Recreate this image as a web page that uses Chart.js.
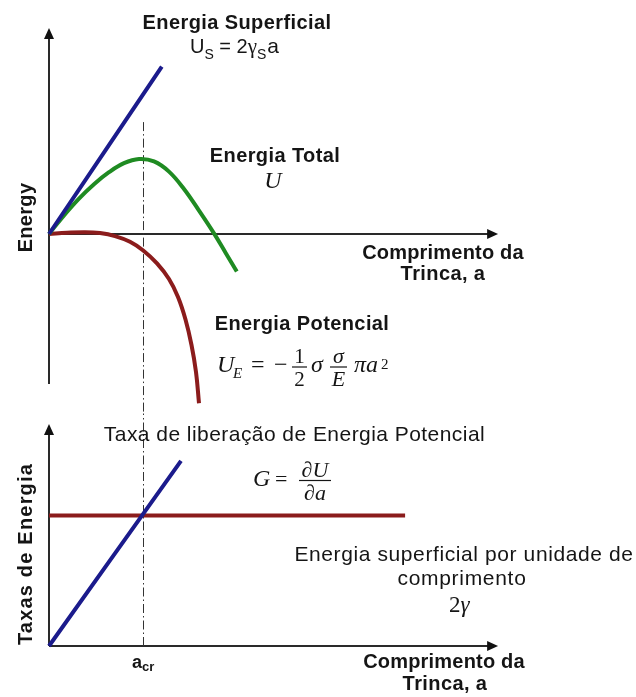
<!DOCTYPE html>
<html>
<head>
<meta charset="utf-8">
<script src="https://cdn.jsdelivr.net/npm/chart.js@4.4.1/dist/chart.umd.min.js"></script>
<style>
  body { margin: 0; background: #fff; }
  #wrap { position: relative; width: 636px; height: 697px; }
  #wrap canvas { position: absolute; left: 0; top: 0; }
</style>
</head>
<body>
<div id="wrap">
  <canvas id="energy" width="636" height="697"></canvas>
  <canvas id="rates" width="636" height="697"></canvas>
</div>
<script>
// top panel: energy vs crack length a
const aSurface = [0, 3.76];
const uSurface = [0, 5.58];
const aTotal = [0, 0.5, 1.0, 1.5, 2.0, 2.5, 3.0, 3.5, 4.0, 4.5, 5.0, 5.5, 5.9, 6.26];
const uTotal = [0, 0.62, 1.18, 1.66, 2.06, 2.36, 2.5, 2.42, 2.08, 1.5, 0.78, 0.02, -0.65, -1.25];
const aPot = [0, 0.6, 1.2, 1.7, 2.2, 2.7, 3.14, 3.6, 4.0, 4.3, 4.55, 4.75, 4.9, 5.0];
const uPot = [0, 0.04, 0.06, 0.03, -0.07, -0.26, -0.55, -0.98, -1.5, -2.1, -2.85, -3.7, -4.6, -5.64];
const aCr = 3.13;

// bottom panel: energy rates
const aG = [0, 4.4];
const gRate = [0, 6.17];
const aR = [0, 11.87];
const rRate = [4.35, 4.35];

const blue = '#1b1b8c';
const green = '#1f8b22';
const red = '#8b1c1c';
const ink = '#151515';

function pts(xs, ys) {
  return xs.map((v, i) => ({x: v, y: ys[i]}));
}

function line(ctx, x1, y1, x2, y2) {
  ctx.beginPath(); ctx.moveTo(x1, y1); ctx.lineTo(x2, y2); ctx.stroke();
}

// axes with arrow heads and the dash-dot line at a_cr
const axesPlugin = {
  id: 'axes',
  beforeDatasetsDraw(chart, args, o) {
    const {ctx, scales: {x, y}} = chart;
    const x0 = x.getPixelForValue(0), y0 = y.getPixelForValue(0);
    const yb = y.getPixelForValue(o.yFrom), yt = y.getPixelForValue(o.yTo);
    const xr = x.getPixelForValue(o.xTo);
    ctx.save();
    ctx.strokeStyle = '#2a2a2a'; ctx.fillStyle = '#111'; ctx.lineWidth = 2;
    line(ctx, x0, yb, x0, yt + 8);
    ctx.beginPath(); ctx.moveTo(x0, yt); ctx.lineTo(x0 - 5, yt + 11); ctx.lineTo(x0 + 5, yt + 11); ctx.closePath(); ctx.fill();
    line(ctx, x0, y0, xr - 8, y0);
    ctx.beginPath(); ctx.moveTo(xr, y0); ctx.lineTo(xr - 11, y0 - 5); ctx.lineTo(xr - 11, y0 + 5); ctx.closePath(); ctx.fill();
    const xc = Math.round(x.getPixelForValue(aCr)) + 0.5;
    ctx.strokeStyle = '#333'; ctx.lineWidth = 1; ctx.setLineDash([9, 3, 1.5, 3]);
    line(ctx, xc, y.getPixelForValue(o.crFrom), xc, y.getPixelForValue(o.crTo));
    ctx.restore();
  }
};

function txt(ctx, s, x, y, font, align, ls) {
  ctx.font = font;
  ctx.textAlign = align || 'left';
  ctx.letterSpacing = (ls || 0) + 'px';
  ctx.fillText(s, x, y);
  const w = ctx.measureText(s).width;
  ctx.letterSpacing = '0px';
  return w;
}

function vtxt(ctx, s, x, y, font, ls) {
  ctx.save();
  ctx.translate(x, y); ctx.rotate(-Math.PI / 2);
  txt(ctx, s, 0, 0, font, 'center', ls);
  ctx.restore();
}

const B = 'bold 20px "Liberation Sans", Arial, sans-serif';
const R = '21px "Liberation Sans", Arial, sans-serif';
const SANS = (px) => px + 'px "Liberation Sans", Arial, sans-serif';
const SI = (px) => 'italic ' + px + 'px "Liberation Serif", "Times New Roman", serif';
const SR = (px) => px + 'px "Liberation Serif", "Times New Roman", serif';

function frac(ctx, top, bot, cx, barY, font, w) {
  txt(ctx, top, cx, barY - 4, font, 'center');
  txt(ctx, bot, cx, barY + 19, font, 'center');
  ctx.save(); ctx.lineWidth = 1.2; ctx.strokeStyle = ink;
  line(ctx, cx - w / 2, barY, cx + w / 2, barY);
  ctx.restore();
}

const topLabels = {
  id: 'topLabels',
  afterDraw(chart) {
    const ctx = chart.ctx;
    ctx.save();
    ctx.fillStyle = ink; ctx.textBaseline = 'alphabetic';
    txt(ctx, 'Energia Superficial', 237, 28.5, B, 'center', 0.4);
    // U_S = 2 gamma_S a
    let x = 190;
    x += txt(ctx, 'U', x, 52.5, SANS(20));
    x += txt(ctx, 'S', x, 58.5, SANS(14));
    x += txt(ctx, ' = 2', x, 52.5, SANS(20));
    x += txt(ctx, 'γ', x, 52.5, SR(21));
    x += txt(ctx, 'S', x, 58.5, SANS(14));
    txt(ctx, 'a', x + 1, 52.5, SANS(21));

    txt(ctx, 'Energia Total', 275, 161.5, B, 'center', 0.4);
    txt(ctx, 'U', 273, 188, SI(24), 'center');

    txt(ctx, 'Comprimento da', 443, 258.5, B, 'center', 0.2);
    txt(ctx, 'Trinca, a', 443, 279.5, B, 'center', 0.4);

    txt(ctx, 'Energia Potencial', 302, 329.5, B, 'center', 0.4);
    // U_E = -1/2 sigma sigma/E pi a^2
    txt(ctx, 'U', 217, 371.5, SI(24));
    txt(ctx, 'E', 233, 378, SI(15));
    txt(ctx, '=', 251, 371.5, SR(24));
    txt(ctx, '−', 274, 371.5, SR(24));
    frac(ctx, '1', '2', 299.5, 367, SR(21), 15);
    txt(ctx, 'σ', 311, 371.5, SI(24));
    frac(ctx, 'σ', 'E', 338.5, 367, SI(22), 17);
    txt(ctx, 'πa', 354, 371.5, SI(24));
    txt(ctx, '2', 381, 369, SR(15));

    vtxt(ctx, 'Energy', 32, 217.5, B, 0.3);
    ctx.restore();
  }
};

const bottomLabels = {
  id: 'bottomLabels',
  afterDraw(chart) {
    const ctx = chart.ctx;
    ctx.save();
    ctx.fillStyle = ink; ctx.textBaseline = 'alphabetic';
    txt(ctx, 'Taxa de liberação de Energia Potencial', 294.5, 441, R, 'center', 0.45);
    // G = dU/da
    txt(ctx, 'G', 253, 486, SI(24));
    txt(ctx, '=', 275, 486, SR(22));
    frac(ctx, '∂U', '∂a', 315, 480.5, SI(22), 32);
    txt(ctx, 'Energia superficial por unidade de', 464, 560.5, R, 'center', 0.6);
    txt(ctx, 'comprimento', 462, 584.5, R, 'center', 0.7);
    let x = 449;
    x += txt(ctx, '2', x, 611.5, SR(23));
    txt(ctx, 'γ', x, 611.5, SI(23));

    x = 132;
    x += txt(ctx, 'a', x, 668, 'bold 18px "Liberation Sans", Arial, sans-serif');
    txt(ctx, 'cr', x, 671, 'bold 13px "Liberation Sans", Arial, sans-serif');

    txt(ctx, 'Comprimento da', 444, 667.5, B, 'center', 0.2);
    txt(ctx, 'Trinca, a', 445, 690, B, 'center', 0.4);

    vtxt(ctx, 'Taxas de Energia', 32, 554, B, 1.2);
    ctx.restore();
  }
};

function opts(yMin, yMax, padTop, padBottom, axes) {
  return {
    responsive: false,
    animation: false,
    events: [],
    layout: {padding: {left: 49, right: 137, top: padTop, bottom: padBottom}},
    scales: {
      x: {type: 'linear', min: 0, max: 15, display: false},
      y: {type: 'linear', min: yMin, max: yMax, display: false}
    },
    elements: {point: {radius: 0}, line: {borderWidth: 4, borderCapStyle: 'butt', fill: false, tension: 0.4}},
    plugins: {legend: {display: false}, tooltip: {enabled: false}, axes: axes}
  };
}

new Chart(document.getElementById('energy'), {
  type: 'line',
  data: {
    datasets: [
      {label: 'Energia Superficial', data: pts(aSurface, uSurface), borderColor: blue, clip: false},
      {label: 'Energia Total', data: pts(aTotal, uTotal), borderColor: green, clip: false},
      {label: 'Energia Potencial', data: pts(aPot, uPot), borderColor: red, clip: false}
    ]
  },
  options: opts(-6, 7, 24, 283, {yFrom: -5, yTo: 6.87, xTo: 14.97, crFrom: 3.73, crTo: -6}),
  plugins: [axesPlugin, topLabels]
});

new Chart(document.getElementById('rates'), {
  type: 'line',
  data: {
    datasets: [
      {label: 'G', data: pts(aG, gRate), borderColor: blue, clip: false},
      {label: '2γ', data: pts(aR, rRate), borderColor: red, clip: false}
    ]
  },
  options: opts(0, 7.5, 421, 51, {yFrom: 0, yTo: 7.4, xTo: 14.97, crFrom: 0, crTo: 7.75}),
  plugins: [axesPlugin, bottomLabels]
});
</script>
</body>
</html>
